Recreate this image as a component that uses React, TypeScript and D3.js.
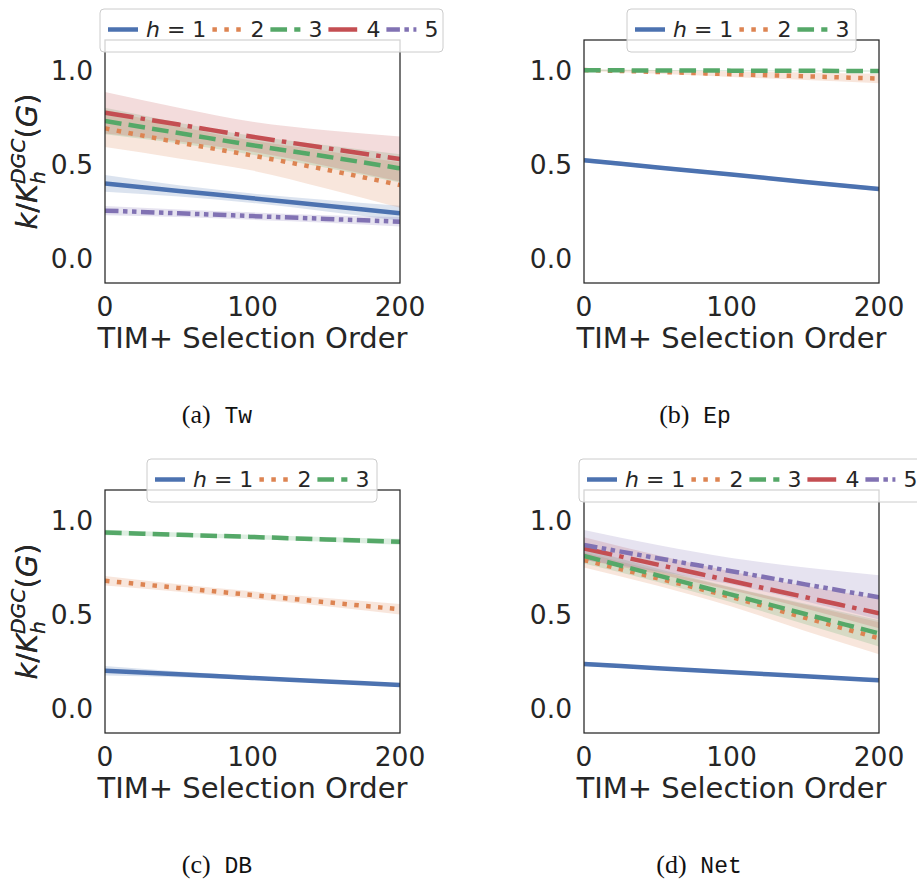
import React from 'react';
import * as d3 from 'd3';

// x positions at which the curves are sampled (TIM+ selection order)
const xs = [0, 50, 100, 150, 200];
const xTicks = [0, 100, 200];
const yTicks = [0.0, 0.5, 1.0];
const hLabels = ['1', '2', '3', '4', '5'];
const colors = ['#4C72B0', '#DD8452', '#55A868', '#C44E52', '#8172B3'];

// (a) Tw : mean per h, and CI half-width
const twMean = [
  [0.397, 0.357, 0.318, 0.278, 0.238],
  [0.69, 0.615, 0.545, 0.47, 0.388],
  [0.729, 0.665, 0.6, 0.54, 0.477],
  [0.773, 0.71, 0.645, 0.585, 0.527],
  [0.252, 0.238, 0.223, 0.208, 0.193],
];
const twCi = [
  [0.045, 0.03, 0.025, 0.03, 0.04],
  [0.1, 0.085, 0.08, 0.1, 0.12],
  [0.07, 0.055, 0.05, 0.06, 0.075],
  [0.11, 0.09, 0.08, 0.095, 0.12],
  [0.025, 0.02, 0.02, 0.02, 0.025],
];
// (b) Ep
const epMean = [
  [0.52, 0.482, 0.444, 0.405, 0.367],
  [1.0, 0.99, 0.978, 0.967, 0.955],
  [0.999, 0.998, 0.997, 0.996, 0.995],
];
const epCi = [
  [0.012, 0.01, 0.01, 0.01, 0.012],
  [0.005, 0.01, 0.015, 0.02, 0.025],
  [0.004, 0.003, 0.003, 0.003, 0.004],
];
// (c) DB
const dbMean = [
  [0.198, 0.179, 0.16, 0.141, 0.122],
  [0.677, 0.639, 0.601, 0.563, 0.525],
  [0.934, 0.922, 0.91, 0.897, 0.885],
];
const dbCi = [
  [0.025, 0.015, 0.01, 0.008, 0.008],
  [0.025, 0.02, 0.02, 0.022, 0.028],
  [0.015, 0.012, 0.012, 0.013, 0.016],
];
// (d) Net
const netMean = [
  [0.234, 0.212, 0.19, 0.169, 0.147],
  [0.787, 0.69, 0.59, 0.48, 0.371],
  [0.809, 0.706, 0.603, 0.5, 0.397],
  [0.849, 0.763, 0.676, 0.59, 0.504],
  [0.867, 0.797, 0.728, 0.658, 0.589],
];
const netCi = [
  [0.012, 0.008, 0.006, 0.008, 0.01],
  [0.04, 0.04, 0.05, 0.07, 0.085],
  [0.04, 0.035, 0.04, 0.055, 0.07],
  [0.06, 0.05, 0.05, 0.06, 0.08],
  [0.08, 0.07, 0.07, 0.09, 0.118],
];

const LW = 4.5;
const dashes = [
  'none',
  `${1 * LW},${1.65 * LW}`,
  `${3.7 * LW},${1.6 * LW}`,
  `${6.4 * LW},${1.6 * LW},${1 * LW},${1.6 * LW}`,
  `${3 * LW},${1 * LW},${1 * LW},${1 * LW},${1 * LW},${1 * LW}`,
];

const TXT = '#262626';
const FONT = 'DejaVu Sans';
const W = 295;
const H = 243;

type PanelProps = {
  id: string;
  left: number;
  top: number;
  mean: number[][];
  ci: number[][];
  legendLeft: number;
  legendRight: number;
  caption: string;
  code: string;
  captionX: number;
};

function Panel({ id, left, top, mean, ci, legendLeft, legendRight, caption, code, captionX }: PanelProps) {
  const x = d3.scaleLinear().domain([0, 200]).range([0, W]);
  const y = d3.scaleLinear().domain([-0.133, 1.16]).range([H, 0]);
  const line = d3
    .line<number>()
    .x((_, i) => x(xs[i]))
    .y((d) => y(d))
    .curve(d3.curveMonotoneX);
  const area = (m: number[], c: number[]) =>
    d3
      .area<number>()
      .x((_, i) => x(xs[i]))
      .y0((d, i) => y(d - c[i]))
      .y1((d, i) => y(d + c[i]))
      .curve(d3.curveMonotoneX)(m) as string;

  const items: { hx: number; tx: number; label: string; i: number }[] = [];
  let cx = legendLeft + 8;
  mean.forEach((_, i) => {
    const tx = cx + 38;
    items.push({ hx: cx, tx, label: hLabels[i], i });
    const adv = i === 0 ? 60.4 : 14;
    cx = tx + adv + 6;
  });
  const lgY = top - 31;
  const lgCy = lgY + 20.5;

  return (
    <g>
      <defs>
        <clipPath id={`clip-${id}`}>
          <rect x={0} y={0} width={W} height={H} />
        </clipPath>
      </defs>
      <g transform={`translate(${left},${top})`}>
        <g clipPath={`url(#clip-${id})`}>
          {mean.map((m, i) => (
            <path key={`b${i}`} d={area(m, ci[i])} fill={colors[i]} fillOpacity={0.2} stroke="none" />
          ))}
          {mean.map((m, i) => (
            <path
              key={`l${i}`}
              d={line(m) as string}
              fill="none"
              stroke={colors[i]}
              strokeWidth={LW}
              strokeDasharray={dashes[i]}
              strokeLinecap="butt"
            />
          ))}
        </g>
        <rect x={0} y={0} width={W} height={H} fill="none" stroke={TXT} strokeWidth={1.25} />
        {yTicks.map((t) => (
          <text
            key={`y${t}`}
            x={-12}
            y={y(t)}
            dy="0.36em"
            textAnchor="end"
            fontFamily={FONT}
            fontSize={26.5}
            fill={TXT}
          >
            {t.toFixed(1)}
          </text>
        ))}
        {xTicks.map((t) => (
          <text key={`x${t}`} x={x(t)} y={H + 33} textAnchor="middle" fontFamily={FONT} fontSize={26.5} fill={TXT}>
            {t}
          </text>
        ))}
        <text x={W / 2} y={H + 65} textAnchor="middle" fontFamily={FONT} fontSize={29} fill={TXT}>
          TIM+ Selection Order
        </text>
        <g transform={`translate(${37 - left},${H / 2}) rotate(-90)`}>
          <text textAnchor="middle" fontFamily={FONT} fontSize={29} fill={TXT}>
            <tspan fontStyle="italic">k</tspan>
            <tspan>/</tspan>
            <tspan fontStyle="italic">K</tspan>
            <tspan fontStyle="italic" fontSize={20.3} dy={8}>
              h
            </tspan>
            <tspan fontStyle="italic" fontSize={20.3} dx={-12.9} dy={-20}>
              DGC
            </tspan>
            <tspan dy={12}>(</tspan>
            <tspan fontStyle="italic">G</tspan>
            <tspan>)</tspan>
          </text>
        </g>
      </g>
      <rect
        x={legendLeft}
        y={lgY}
        width={legendRight - legendLeft}
        height={43}
        rx={4}
        fill="#ffffff"
        fillOpacity={0.8}
        stroke="#cccccc"
        strokeWidth={1}
      />
      {items.map((it) => (
        <g key={`lg${it.i}`}>
          <line
            x1={it.hx}
            x2={it.hx + 30}
            y1={lgCy}
            y2={lgCy}
            stroke={colors[it.i]}
            strokeWidth={LW}
            strokeDasharray={dashes[it.i]}
          />
          <text x={it.tx} y={lgCy} dy="0.36em" fontFamily={FONT} fontSize={22} fill={TXT}>
            {it.i === 0 ? (
              <>
                <tspan fontStyle="italic">h</tspan>
                <tspan>{` = ${it.label}`}</tspan>
              </>
            ) : (
              it.label
            )}
          </text>
        </g>
      ))}
      <text x={captionX} y={top + 383} textAnchor="middle" fill="#111">
        <tspan fontFamily="Liberation Serif" fontSize={26}>{caption}</tspan>
        <tspan fontFamily="Liberation Mono" fontSize={23}>{` ${code}`}</tspan>
      </text>
    </g>
  );
}

export default function App() {
  return (
    <div style={{ position: 'absolute', left: 0, top: 0 }}>
      <svg width={917} height={882} style={{ display: 'block', background: '#fff' }}>
        <Panel id="a" left={105} top={40} mean={twMean} ci={twCi} legendLeft={100} legendRight={443} caption="(a)" code="Tw" captionX={217} />
        <Panel id="b" left={584} top={40} mean={epMean} ci={epCi} legendLeft={627} legendRight={856} caption="(b)" code="Ep" captionX={695} />
        <Panel id="c" left={105} top={490} mean={dbMean} ci={dbCi} legendLeft={147} legendRight={377} caption="(c)" code="DB" captionX={217} />
        <Panel id="d" left={584} top={490} mean={netMean} ci={netCi} legendLeft={579} legendRight={922} caption="(d)" code="Net" captionX={699} />
      </svg>
    </div>
  );
}
